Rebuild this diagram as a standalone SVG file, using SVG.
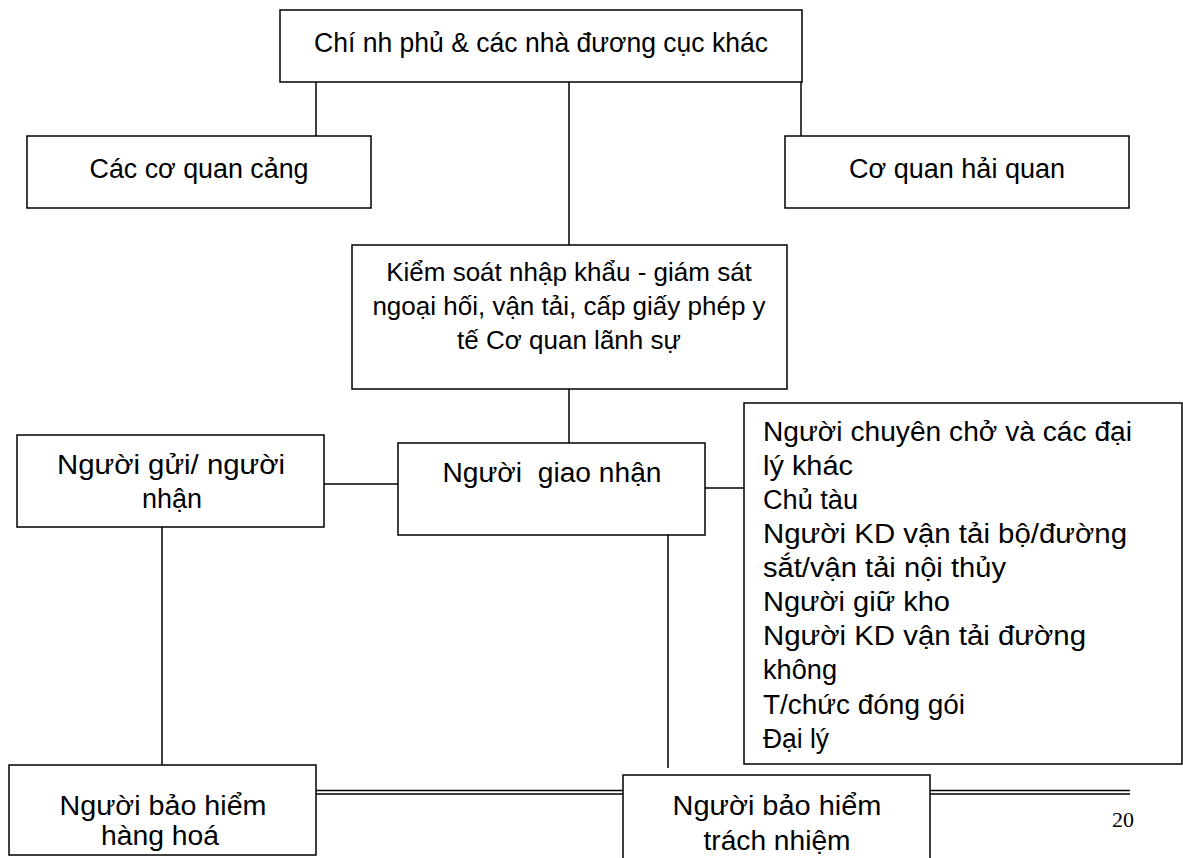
<svg xmlns="http://www.w3.org/2000/svg" width="1183" height="858" viewBox="0 0 1183 858">
<style>
.box{fill:#fff;stroke:#000;stroke-width:1.5}
.ln{stroke:#000;stroke-width:1.5;fill:none}
.t{font-family:"Liberation Sans",Arial,sans-serif;font-size:27px;fill:#000}
.s{font-size:26px}
.c{text-anchor:middle}
</style>
<rect width="1183" height="858" fill="#fff"/>
<g id="connectors">
<line class="ln" x1="316" y1="82" x2="316" y2="136"/>
<line class="ln" x1="569" y1="82" x2="569" y2="245"/>
<line class="ln" x1="801" y1="82" x2="801" y2="136"/>
<line class="ln" x1="569" y1="389" x2="569" y2="443"/>
<line class="ln" x1="324" y1="484" x2="398" y2="484"/>
<line class="ln" x1="705" y1="488" x2="744" y2="488"/>
<line class="ln" x1="162" y1="527" x2="162" y2="765"/>
<line class="ln" x1="668" y1="535" x2="668" y2="768"/>
<line class="ln" x1="316" y1="790.5" x2="623" y2="790.5"/>
<line class="ln" x1="316" y1="794" x2="623" y2="794"/>
<line class="ln" x1="930" y1="790.5" x2="1130" y2="790.5"/>
<line class="ln" x1="930" y1="794" x2="1130" y2="794"/>
</g>
<g id="chinh-phu">
<rect class="box" x="280" y="10" width="522" height="72"/>
<text class="t c" x="541" y="52" textLength="454" lengthAdjust="spacingAndGlyphs">Chí nh phủ &amp; các nhà đương cục khác</text>
</g>
<g id="co-quan-cang">
<rect class="box" x="27" y="136" width="344" height="72"/>
<text class="t c" x="199" y="178" textLength="219" lengthAdjust="spacingAndGlyphs">Các cơ quan cảng</text>
</g>
<g id="co-quan-hai-quan">
<rect class="box" x="785" y="136" width="344" height="72"/>
<text class="t c" x="957" y="178" textLength="216" lengthAdjust="spacingAndGlyphs">Cơ quan hải quan</text>
</g>
<g id="kiem-soat">
<rect class="box" x="352" y="245" width="435" height="144"/>
<text class="t s c" x="569" y="281">Kiểm soát nhập khẩu - giám sát</text>
<text class="t s c" x="569" y="315">ngoại hối, vận tải, cấp giấy phép y</text>
<text class="t s c" x="569" y="349">tế Cơ quan lãnh sự</text>
</g>
<g id="nguoi-gui">
<rect class="box" x="17" y="435" width="307" height="92"/>
<text class="t c" x="171" y="474" textLength="228" lengthAdjust="spacingAndGlyphs">Người gửi/ người</text>
<text class="t c" x="172" y="508" textLength="60" lengthAdjust="spacingAndGlyphs">nhận</text>
</g>
<g id="nguoi-giao-nhan">
<rect class="box" x="398" y="443" width="307" height="92"/>
<text class="t c" x="552" y="482" xml:space="preserve" textLength="219" lengthAdjust="spacingAndGlyphs">Người  giao nhận</text>
</g>
<g id="nguoi-chuyen-cho">
<rect class="box" x="744" y="403" width="438" height="361"/>
<text class="t" x="763" y="441" textLength="369" lengthAdjust="spacingAndGlyphs">Người chuyên chở và các đại</text>
<text class="t" x="763" y="475" textLength="90" lengthAdjust="spacingAndGlyphs">lý khác</text>
<text class="t" x="763" y="509" textLength="95" lengthAdjust="spacingAndGlyphs">Chủ tàu</text>
<text class="t" x="763" y="543" textLength="364" lengthAdjust="spacingAndGlyphs">Người KD vận tải bộ/đường</text>
<text class="t" x="763" y="577" textLength="243" lengthAdjust="spacingAndGlyphs">sắt/vận tải nội thủy</text>
<text class="t" x="763" y="611" textLength="187" lengthAdjust="spacingAndGlyphs">Người giữ kho</text>
<text class="t" x="763" y="645" textLength="323" lengthAdjust="spacingAndGlyphs">Người KD vận tải đường</text>
<text class="t" x="763" y="679" textLength="74" lengthAdjust="spacingAndGlyphs">không</text>
<text class="t" x="763" y="714" textLength="202" lengthAdjust="spacingAndGlyphs">T/chức đóng gói</text>
<text class="t" x="763" y="748" textLength="66" lengthAdjust="spacingAndGlyphs">Đại lý</text>
</g>
<g id="bao-hiem-hang-hoa">
<rect class="box" x="9" y="765" width="307" height="90"/>
<text class="t c" x="163" y="815" textLength="207" lengthAdjust="spacingAndGlyphs">Người bảo hiểm</text>
<text class="t c" x="160" y="845" textLength="118" lengthAdjust="spacingAndGlyphs">hàng hoá</text>
</g>
<g id="bao-hiem-trach-nhiem">
<rect class="box" x="623" y="775" width="307" height="95"/>
<text class="t c" x="777" y="815" textLength="209" lengthAdjust="spacingAndGlyphs">Người bảo hiểm</text>
<text class="t c" x="777" y="850" textLength="147" lengthAdjust="spacingAndGlyphs">trách nhiệm</text>
</g>
<text x="1123" y="827" text-anchor="middle" font-family="'Liberation Serif','Times New Roman',serif" font-size="22">20</text>
</svg>
